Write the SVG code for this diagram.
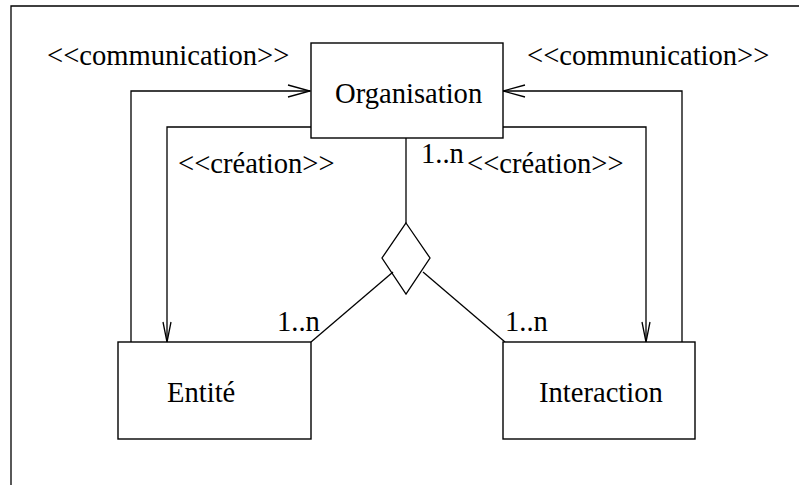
<svg xmlns="http://www.w3.org/2000/svg" width="799" height="485" viewBox="0 0 799 485">
  <style>
    .box { fill: #fff; stroke: #000; stroke-width: 1.4; }
    .ln { fill: none; stroke: #000; stroke-width: 1.3; }
    .lbl { font-family: 'Liberation Serif', 'Times New Roman', serif; font-size: 28.6px; fill: #000; }
  </style>
  <defs>
    <!-- open "V" arrowheads: wide one for horizontal links, narrow one for vertical links -->
    <marker id="openH" markerUnits="userSpaceOnUse" markerWidth="30" markerHeight="20" refX="22" refY="7" orient="auto" overflow="visible">
      <path d="M0,1 L22,7 L0,13" fill="none" stroke="#000" stroke-width="1.3"/>
    </marker>
    <marker id="openV" markerUnits="userSpaceOnUse" markerWidth="30" markerHeight="20" refX="20" refY="5" orient="auto" overflow="visible">
      <path d="M0,1 L20,5 L0,9" fill="none" stroke="#000" stroke-width="1.3"/>
    </marker>
  </defs>

  <rect width="799" height="485" fill="#fff"/>
  <!-- outer frame -->
  <path class="ln" d="M11,485 V6 H799" stroke-width="1.5"/>

  <g id="connectors">
    <!-- communication links -->
    <path class="ln" d="M131,342 V91 H310" marker-end="url(#openH)"/>
    <path class="ln" d="M682,342 V91 H503" marker-end="url(#openH)"/>
    <!-- creation links -->
    <path class="ln" d="M311,127 H167 V342" marker-end="url(#openV)"/>
    <path class="ln" d="M503,127 H646 V342" marker-end="url(#openV)"/>
    <!-- n-ary association -->
    <path class="ln" d="M406,138 V223"/>
    <path class="ln" d="M393,272 L311,342"/>
    <path class="ln" d="M423,272 L505,342"/>
    <polygon class="ln" points="406,223 430,258 406,294 382,258"/>
    <text class="lbl" x="47" y="65">&lt;&lt;communication&gt;&gt;</text>
    <text class="lbl" x="527" y="65">&lt;&lt;communication&gt;&gt;</text>
    <text class="lbl" x="178" y="173">&lt;&lt;création&gt;&gt;</text>
    <text class="lbl" x="467" y="173">&lt;&lt;création&gt;&gt;</text>
    <text class="lbl" x="421" y="163">1..n</text>
    <text class="lbl" x="277" y="331">1..n</text>
    <text class="lbl" x="505" y="331">1..n</text>
  </g>

  <g id="organisation">
    <rect class="box" x="311" y="43" width="192" height="95"/>
    <text class="lbl" x="335" y="103">Organisation</text>
  </g>

  <g id="entite">
    <rect class="box" x="118" y="342" width="193" height="97"/>
    <text class="lbl" x="167" y="402">Entité</text>
  </g>

  <g id="interaction">
    <rect class="box" x="503" y="342" width="192" height="97"/>
    <text class="lbl" x="539" y="402">Interaction</text>
  </g>
</svg>
